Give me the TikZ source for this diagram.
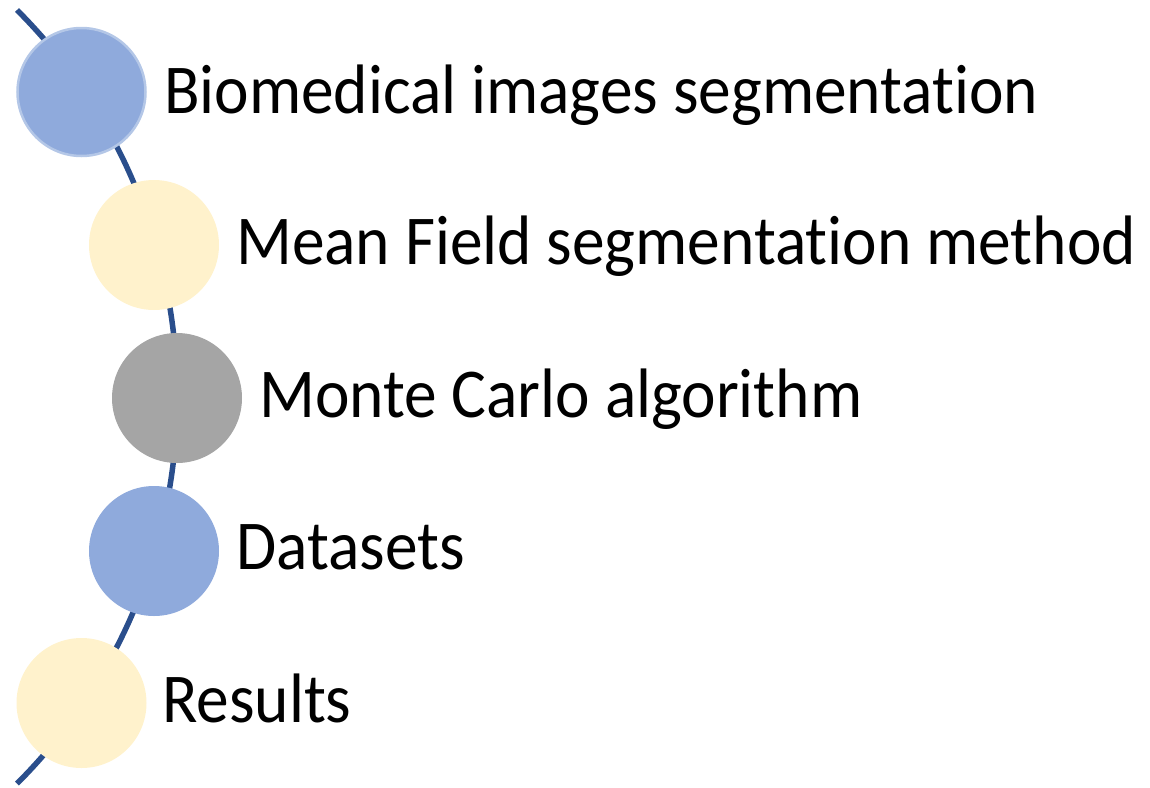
\documentclass[tikz,border=0pt]{standalone}
\usepackage{fontspec}
\setmainfont{Carlito}[Ligatures={NoCommon}, FakeStretch=0.934]
\definecolor{cblue}{HTML}{8FAADC}
\definecolor{cblueedge}{HTML}{B4C7E7}
\definecolor{cyellow}{HTML}{FFF2CC}
\definecolor{cgray}{HTML}{A5A5A5}
\definecolor{cline}{HTML}{2A4E8C}
\tikzset{
  dot/.style={circle, minimum size=130pt, inner sep=0pt, draw=none},
  lbl/.style={anchor=base west, inner sep=0pt, font=\fontsize{70}{84}\selectfont},
  spine/.style={draw=cline, line width=5.5pt}
}
\begin{document}
\begin{tikzpicture}[x=1pt,y=-1pt]
\useasboundingbox (0,0) rectangle (1150,787);
\coordinate (top) at (17,10);
\draw[spine] (top) arc[start angle=-45, end angle=45, radius=547];
\node[dot, fill=cblue, draw=cblueedge, line width=2.5pt, minimum size=128pt] (c1) at (81.5,92) {};
\node[dot, fill=cyellow] (c2) at (154,245) {};
\node[dot, fill=cgray] (c3) at (177,398) {};
\node[dot, fill=cblue] (c4) at (154,551) {};
\node[dot, fill=cyellow] (c5) at (81.5,703) {};
\node[lbl] (t1) at (164,113) {Biomedical images segmentation};
\node[lbl] (t2) at (236,264) {Mean Field segmentation method};
\node[lbl] (t3) at (259,417) {Monte Carlo algorithm};
\node[lbl] (t4) at (236,569) {Datasets};
\node[lbl] (t5) at (162,722) {Results};
\end{tikzpicture}
\end{document}
